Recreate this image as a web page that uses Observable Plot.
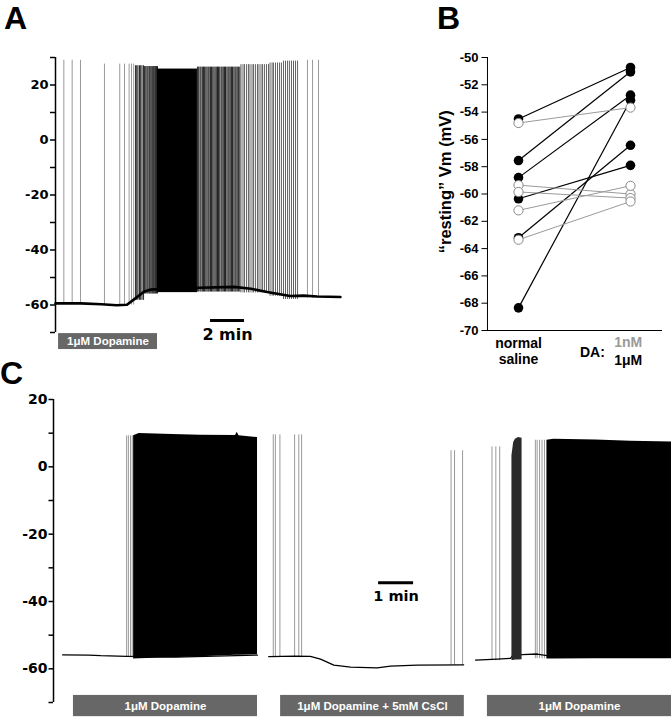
<!DOCTYPE html>
<html><head><meta charset="utf-8">
<script src="https://cdn.jsdelivr.net/npm/d3@7"></script>
<script src="https://cdn.jsdelivr.net/npm/@observablehq/plot@0.6"></script>
<style>
body{margin:0;background:#fff}
#fig{position:relative;width:671px;height:719px;overflow:hidden;background:#fff}
.panel{position:absolute}
</style></head><body><div id="fig"></div>
<script>
// ---------- Panel A data (time in min, Vm in mV) ----------
const ticksA_major = [-60, -40, -20, 0, 20];
const ticksA_minor = [-70, -50, -30, -10, 10, 30];
const traceA = [[0,-59.4],[1.5,-59.4],[2.7,-59.7],[3.6,-60.1],[4.2,-59.9],[4.7,-57.6],[5.2,-55.2],[5.6,-54.4],[6.6,-54.0],[8.5,-53.7],[10.5,-53.4],[11.5,-54.1],[12.45,-55.3],[13.8,-56.7],[14.6,-56.6],[15.4,-56.9],[16.76,-57.1]];
const spikeGroupsA = [
  {kind:"isolated", peak:29.0, trough:-59.8, times:[0.49,0.98,1.47]},
  {kind:"isolated", peak:27.6, trough:-60.0, times:[2.88,3.78,4.06,4.33,4.47,4.60]},
  {kind:"dense", peak:27.0, trough:-58.3, times:[4.71,4.78,4.85,4.94,5.01,5.09,5.18]},
  {kind:"dense", peak:26.7, trough:-56.0, times:[5.24,5.31,5.38,5.44,5.51,5.56,5.62,5.68,5.73,5.78,5.84,5.89,5.94,6.00]},
  {kind:"dense", peak:26.5, trough:-55.3, times:[8.35,8.42,8.50,8.56,8.64,8.71,8.76,8.84,8.91,8.98,9.04,9.12,9.18,9.25,9.32,9.39,9.46,9.53,9.59,9.66,9.74,9.80,9.87,9.94,10.00,10.08,10.15,10.21,10.28,10.35,10.41,10.49,10.56,10.62,10.69,10.76,10.84]},
  {kind:"train", peak:27.4, trough:-55.6, times:[10.91,11.03,11.12,11.24,11.35,11.44,11.56,11.65,11.76,11.88,11.97,12.09,12.18,12.29,12.41,12.53]},
  {kind:"train", peak:28.0, trough:-56.8, times:[12.62,12.74,12.82,12.94,13.06,13.18,13.29]},
  {kind:"train", peak:28.7, trough:-58.0, times:[13.41,13.53,13.65,13.76,13.88,14.00,14.12,14.24]},
  {kind:"isolated", peak:29.0, trough:-57.6, times:[14.82,15.12,15.47]}
];
const burstA = [{t0:6.0, t1:8.35, top:25.8, bottom:-55.5}];
const drugA = [{label:"1μM Dopamine", t0:0.18, t1:6.0}];
const scaleA = {t0:9.12, minutes:2};

// ---------- Panel B data ----------
const ticksB = [-50,-52,-54,-56,-58,-60,-62,-64,-66,-68,-70];
const saline1uM = [-54.5,-57.55,-58.8,-60.35,-63.2,-68.34];
const da1uM     = [-50.73,-51.05,-52.76,-57.9,-56.43,-53.13];
const saline1nM = [-54.8,-59.35,-59.85,-61.2,-63.35];
const da1nM     = [-53.67,-60.0,-60.3,-59.4,-60.55];

// ---------- Panel C data ----------
const ticksC_major = [-60,-40,-20,0,20];
const ticksC_minor = [-70,-50,-30,-10,10];
const traceC = [
  [1,0.26,-55.85],[1,1.0,-55.9],[1,1.35,-56.1],[1,2.09,-56.3],[1,3.5,-56.5],[1,5.83,-55.9],
  [2,6.15,-56.4],[2,6.9,-56.2],[2,7.34,-56.3],[2,7.63,-57.1],[2,8.01,-58.9],[2,8.49,-59.5],[2,9.25,-59.7],[2,9.63,-59.2],[2,10.39,-58.9],[2,11.72,-58.8],
  [3,12.06,-57.4],[3,12.68,-57.1],[3,13.06,-56.9],[3,13.13,-55.9],[3,13.39,-55.8],[3,13.82,-55.6],[3,14.1,-56.1],[3,17.66,-56.5]
];
const spikeGroupsC = [
  {peak:9.2, trough:-56.6, times:[2.09,2.14,2.20,2.25]},
  {peak:9.5, trough:-56.7, times:[6.28,6.34,6.47,6.89,7.01,7.09]},
  {peak:4.8, trough:-59.0, times:[11.36,11.46,11.69]},
  {peak:5.9, trough:-57.6, times:[12.53,12.64,12.75]},
  {peak:7.9, trough:-57.0, times:[13.77,13.82,13.89,13.96,14.03]}
];
const burstC = [
  [1,2.29,9.2,-57.1],[1,2.45,9.9,-57.0],[1,3.4,9.6,-56.7],[1,4.2,9.4,-56.4],[1,5.2,9.3,-56.0],[1,5.25,10.3,-56.0],[1,5.3,9.2,-56.0],[1,5.83,8.7,-55.8],
  [3,14.1,7.9,-57.1],[3,14.3,8.2,-57.1],[3,15.5,8.0,-57.0],[3,16.5,7.6,-57.0],[3,17.66,7.4,-57.0]
];
const onsetC = [[13.10,3.3,-57.5],[13.15,7.2,-57.5],[13.20,8.2,-57.4],[13.29,8.7,-57.4],[13.39,8.5,-57.3]];
const drugC = [
  {label:"1μM Dopamine", t0:0.57, t1:5.83},
  {label:"1μM Dopamine + 5mM CsCl", t0:6.49, t1:11.74},
  {label:"1μM Dopamine", t0:12.4, t1:17.66}
];
const scaleC = {t0:9.29, minutes:1};

// ---------- build ----------
const fig = document.getElementById("fig");
function place(svg, left, top, w) {
  const div = document.createElement("div");
  div.className = "panel";
  div.style.left = left + "px"; div.style.top = top + "px"; div.style.width = w + "px";
  div.appendChild(svg); fig.appendChild(div);
}
const baseStyle = {fontFamily:"DejaVu Sans", fontWeight:"bold", background:"transparent", color:"black", overflow:"visible"};
const wordFont = "Liberation Sans";
const hyphen = d => String(d); // plain hyphen-minus like the original
const spikeStyle = {
  isolated: {stroke:"#9a9a9a", strokeWidth:1},
  dense: {stroke:"#000", strokeWidth:1, strokeOpacity:0.85},
  train: {stroke:"#000", strokeWidth:1, strokeOpacity:0.62}
};

function spikeMarks(groups, styleFor) {
  return groups.map(g => Plot.ruleX(g.times, {y1:g.peak, y2:g.trough, ...styleFor(g)}));
}

// Panel A
const pA = Plot.plot({
  width:345, height:352, marginLeft:55, marginRight:4, marginTop:57, marginBottom:20,
  x:{domain:[0,16.8], range:[55,340.6], axis:null},
  y:{domain:[-70,30], range:[332,57]},
  style: baseStyle,
  marks:[
    Plot.axisY({ticks:ticksA_major, tickSize:5, tickPadding:2, fontSize:13, strokeWidth:1.5, label:null, tickFormat:hyphen}),
    Plot.axisY({ticks:ticksA_minor, tickSize:5, tickFormat:() => "", strokeWidth:1.5, label:null}),
    Plot.ruleX([0], {y1:-70, y2:30, strokeWidth:1.5}),
    ...spikeMarks(spikeGroupsA, g => spikeStyle[g.kind]),
    Plot.rect(burstA, {x1:"t0", x2:"t1", y1:"bottom", y2:"top", fill:"black"}),
    Plot.line(traceA, {x:d=>d[0], y:d=>d[1], stroke:"black", strokeWidth:2.6}),
    Plot.rect(drugA, {x1:"t0", x2:"t1", y1:-70.4, y2:-76.2, fill:"#676767"}),
    Plot.text(drugA, {x:d=>(d.t0+d.t1)/2, y:-73.3, text:"label", fill:"white", fontSize:11.5, fontFamily:wordFont}),
    Plot.ruleY([-65.6], {x1:scaleA.t0, x2:scaleA.t0 + scaleA.minutes, strokeWidth:3}),
    Plot.text([`${scaleA.minutes} min`], {x:scaleA.t0 + scaleA.minutes/2, y:-70.7, fontSize:16})
  ]
});
place(pA, 0, 0, 345);

// Panel B
const pairs1uM = saline1uM.map((s,i) => ({s, d:da1uM[i]}));
const pairs1nM = saline1nM.map((s,i) => ({s, d:da1nM[i]}));
const pB = Plot.plot({
  width:271, height:372, marginLeft:87, marginRight:9, marginTop:57, marginBottom:42,
  x:{domain:[0,1], range:[118,230], axis:null},
  y:{domain:[-70,-50], range:[330,57]},
  style: {...baseStyle, fontFamily:wordFont},
  marks:[
    Plot.axisY({ticks:ticksB, tickSize:5.5, tickPadding:3.5, fontSize:13, strokeWidth:1, label:null, tickFormat:hyphen}),
    Plot.ruleX([-0.277], {y1:-70, y2:-50, strokeWidth:1}),
    Plot.ruleY([-70], {x1:-0.277, x2:1.286, strokeWidth:1}),
    Plot.link(pairs1uM, {x1:0, x2:1, y1:"s", y2:"d", stroke:"black", strokeWidth:1.2}),
    Plot.dot(saline1uM, {x:0, y:d=>d, r:4.8, fill:"black"}),
    Plot.dot(da1uM, {x:1, y:d=>d, r:4.8, fill:"black"}),
    Plot.link(pairs1nM, {x1:0, x2:1, y1:"s", y2:"d", stroke:"#9a9a9a", strokeWidth:1}),
    Plot.dot(saline1nM, {x:0, y:d=>d, r:4.6, fill:"white", stroke:"#888", strokeWidth:1}),
    Plot.dot(da1nM, {x:1, y:d=>d, r:4.6, fill:"white", stroke:"#888", strokeWidth:1}),
    Plot.text(["“resting” Vm (mV)"], {x:-0.652, y:-59.1, rotate:-90, fontSize:16.5}),
    Plot.text(["normal"], {x:0.0, y:-70.96, fontSize:14}),
    Plot.text(["saline"], {x:0.0, y:-72.1, fontSize:14}),
    Plot.text(["DA:"], {x:0.66, y:-71.6, fontSize:14}),
    Plot.text(["1nM"], {x:0.98, y:-70.9, fontSize:14, fill:"#9a9a9a"}),
    Plot.text(["1μM"], {x:0.98, y:-72.2, fontSize:14})
  ]
});
place(pB, 400, 0, 271);

// Panel C
const pC = Plot.plot({
  width:671, height:369, marginLeft:53, marginRight:0, marginTop:49, marginBottom:17,
  x:{domain:[0,17.66], range:[53,671], axis:null},
  y:{domain:[-70,20], range:[352,49]},
  style: baseStyle,
  marks:[
    Plot.axisY({ticks:ticksC_major, tickSize:4.5, tickPadding:1.5, fontSize:14, strokeWidth:1.5, label:null, tickFormat:hyphen}),
    Plot.axisY({ticks:ticksC_minor, tickSize:4.5, tickFormat:() => "", strokeWidth:1.5, label:null}),
    Plot.ruleX([0], {y1:-70, y2:20, strokeWidth:1.5}),
    ...spikeMarks(spikeGroupsC, () => ({stroke:"#999", strokeWidth:1})),
    Plot.line(traceC, {x:d=>d[1], y:d=>d[2], z:d=>d[0], stroke:"black", strokeWidth:1.3}),
    Plot.areaY(burstC, {x:d=>d[1], y1:d=>d[3], y2:d=>d[2], z:d=>d[0], fill:"black"}),
    Plot.areaY(onsetC, {x:d=>d[0], y1:d=>d[2], y2:d=>d[1], fill:"#2a2a2a"}),
    Plot.rect(drugC, {x1:"t0", x2:"t1", y1:-67.9, y2:-74.2, fill:"#676767"}),
    Plot.text(drugC, {x:d=>(d.t0+d.t1)/2, y:-71.05, text:"label", fill:"white", fontSize:11.5, fontFamily:wordFont}),
    Plot.ruleY([-34.4], {x1:scaleC.t0, x2:scaleC.t0 + scaleC.minutes, strokeWidth:3}),
    Plot.text([`${scaleC.minutes} min`], {x:scaleC.t0 + scaleC.minutes/2, y:-38.5, fontSize:14.5})
  ]
});
place(pC, 0, 350, 671);

// Panel letters
const ns = "http://www.w3.org/2000/svg";
const ov = document.createElementNS(ns, "svg");
ov.setAttribute("width", 671); ov.setAttribute("height", 719);
ov.style.position = "absolute"; ov.style.left = "0"; ov.style.top = "0"; ov.style.pointerEvents = "none";
[["A",4,29],["B",437,29],["C",0,384]].forEach(([t,x,y]) => {
  const el = document.createElementNS(ns, "text");
  el.setAttribute("x", x); el.setAttribute("y", y);
  el.setAttribute("font-family", wordFont); el.setAttribute("font-weight", "bold"); el.setAttribute("font-size", 32);
  el.textContent = t; ov.appendChild(el);
});
fig.appendChild(ov);
</script></body></html>
